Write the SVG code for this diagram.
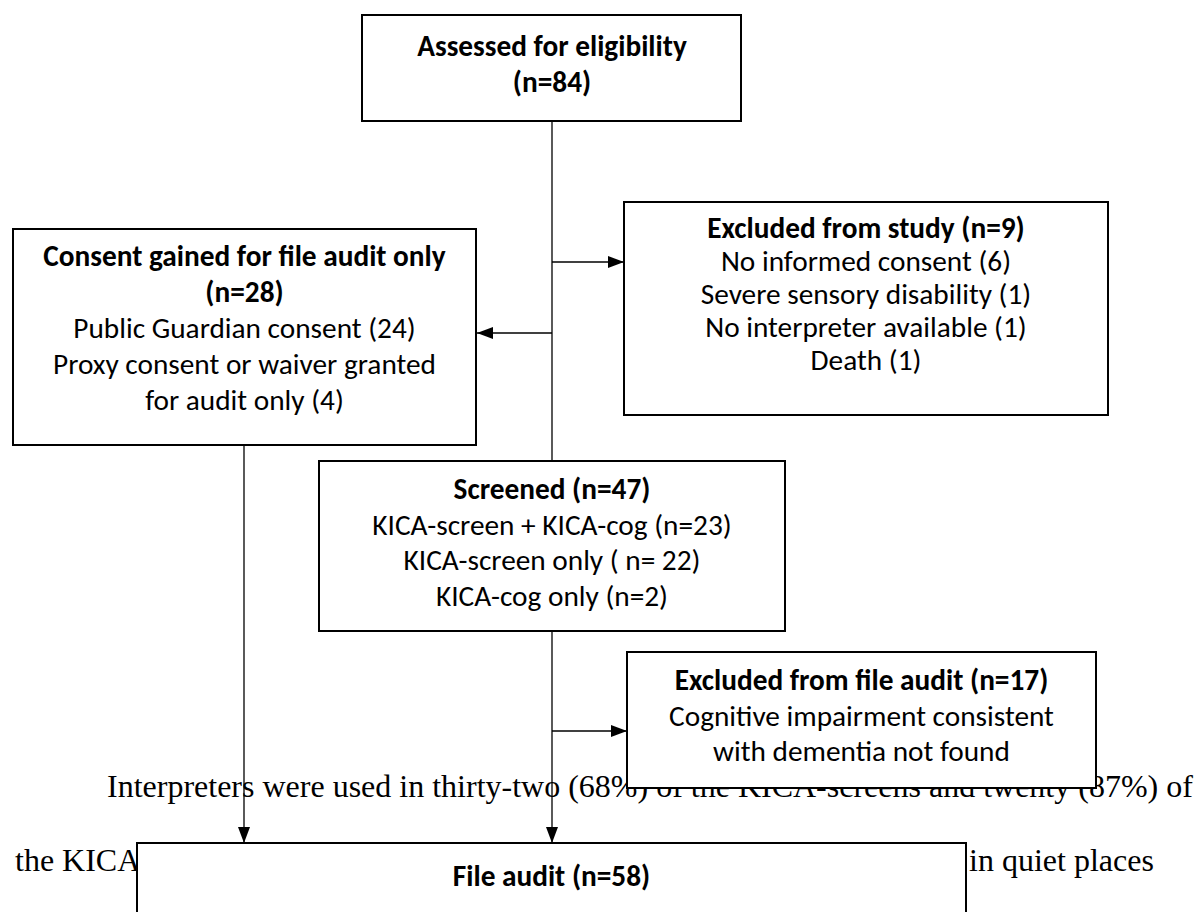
<svg xmlns="http://www.w3.org/2000/svg" width="1198" height="912" viewBox="0 0 1198 912">
  <style>
    .bg { fill: #ffffff; }
    .box { fill: #ffffff; stroke: #000000; stroke-width: 2; }
    .conn { fill: none; stroke: #000000; stroke-width: 1.3; }
    .t { font-family: Carlito, Lato, "Liberation Sans", sans-serif; font-size: 29.3px; fill: #000000; text-anchor: middle; }
    .b { font-weight: bold; }
    .para { font-family: "Liberation Serif", "Times New Roman", serif; font-size: 32px; fill: #000000; }
  </style>
  <defs>
    <marker id="arrow" viewBox="0 0 16 12" refX="16" refY="6" markerWidth="16" markerHeight="12" markerUnits="userSpaceOnUse" orient="auto">
      <path d="M0,0 L16,6 L0,12 Z" fill="#000000"/>
    </marker>
  </defs>
  <rect class="bg" x="0" y="0" width="1198" height="912"/>

  <g id="paragraph">
    <text class="para" x="107" y="797">Interpreters were used in thirty-two (68%) of the KICA-screens and twenty (87%) of</text>
    <text class="para" x="15" y="871">the KICA</text>
    <text class="para" x="969" y="871">in quiet places</text>
  </g>

  <g id="connectors">
    <line class="conn" x1="552" y1="121" x2="552" y2="461"/>
    <line class="conn" x1="552" y1="262" x2="624" y2="262" marker-end="url(#arrow)"/>
    <line class="conn" x1="552" y1="333" x2="477" y2="333" marker-end="url(#arrow)"/>
    <line class="conn" x1="244" y1="445" x2="244" y2="843" marker-end="url(#arrow)"/>
    <line class="conn" x1="552" y1="631" x2="552" y2="843" marker-end="url(#arrow)"/>
    <line class="conn" x1="552" y1="731" x2="627" y2="731" marker-end="url(#arrow)"/>
  </g>

  <g id="assessed">
    <rect class="box" x="362" y="15" width="379" height="106"/>
    <text class="t b" x="552" y="56">Assessed for eligibility</text>
    <text class="t b" x="552" y="92">(n=84)</text>
  </g>

  <g id="consent">
    <rect class="box" x="13" y="229" width="463" height="216"/>
    <text class="t b" x="244.5" y="266">Consent gained for file audit only</text>
    <text class="t b" x="244.5" y="302">(n=28)</text>
    <text class="t" x="244.5" y="338">Public Guardian consent (24)</text>
    <text class="t" x="244.5" y="374">Proxy consent or waiver granted</text>
    <text class="t" x="244.5" y="410">for audit only (4)</text>
  </g>

  <g id="excluded-study">
    <rect class="box" x="624" y="202" width="484" height="213"/>
    <text class="t b" x="866" y="238">Excluded from study (n=9)</text>
    <text class="t" x="866" y="271">No informed consent (6)</text>
    <text class="t" x="866" y="304">Severe sensory disability (1)</text>
    <text class="t" x="866" y="337">No interpreter available (1)</text>
    <text class="t" x="866" y="370">Death (1)</text>
  </g>

  <g id="screened">
    <rect class="box" x="319" y="461" width="466" height="170"/>
    <text class="t b" x="552" y="499">Screened (n=47)</text>
    <text class="t" x="552" y="535">KICA-screen + KICA-cog (n=23)</text>
    <text class="t" x="552" y="570">KICA-screen only ( n= 22)</text>
    <text class="t" x="552" y="606">KICA-cog only (n=2)</text>
  </g>

  <g id="excluded-audit">
    <rect class="box" x="627" y="652" width="469" height="136"/>
    <text class="t b" x="861.5" y="690">Excluded from file audit (n=17)</text>
    <text class="t" x="861.5" y="726">Cognitive impairment consistent</text>
    <text class="t" x="861.5" y="761">with dementia not found</text>
  </g>

  <g id="file-audit">
    <rect class="box" x="137" y="843" width="829" height="90"/>
    <text class="t b" x="551.5" y="886">File audit (n=58)</text>
  </g>
</svg>
